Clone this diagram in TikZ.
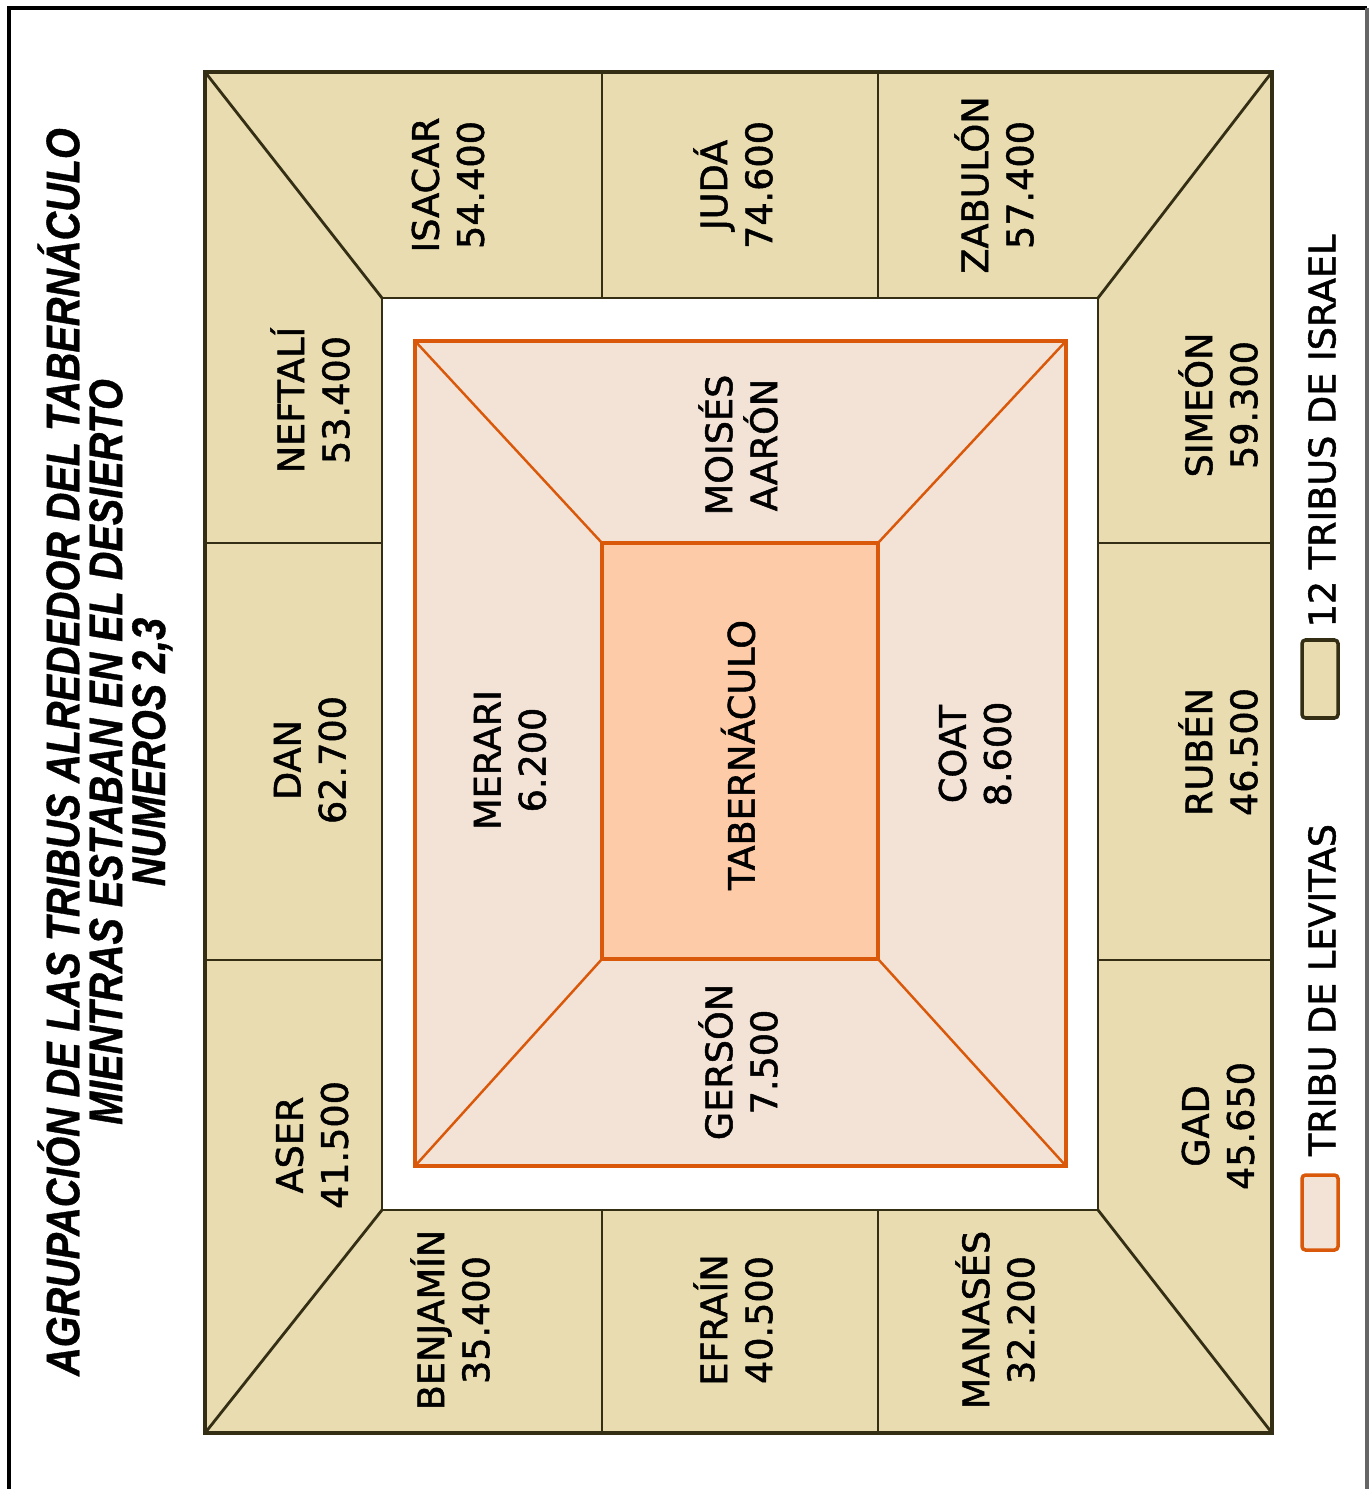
\documentclass[tikz,border=0pt]{standalone}
\usepackage{fontspec}
\setmainfont{DejaVu Sans}
\newfontfamily\lblfont[FakeBold=1.4]{DejaVu Sans}
\newfontfamily\titlefont[FakeStretch=0.84,FakeBold=0.8]{Liberation Sans}
\usetikzlibrary{positioning}
\definecolor{tribu}{HTML}{E8DCB0}
\definecolor{linea}{HTML}{332E14}
\definecolor{levita}{HTML}{F3E3D7}
\definecolor{naranja}{HTML}{D9580A}
\definecolor{tab}{HTML}{FDCBA7}

\begin{document}
\begin{tikzpicture}[x=0.01cm,y=-0.01cm,
  campo/.style={draw=linea,line width=1.1pt,fill=tribu},
  divis/.style={draw=linea,line width=0.8pt},
  levzona/.style={draw=naranja,line width=1pt,fill=levita},
  levdiag/.style={draw=naranja,line width=0.7pt},
  lbl/.style={rotate=90,align=center,inner sep=0pt,font=\lblfont\fontsize{10.4}{12.8}\selectfont},
  titulo/.style={rotate=90,align=center,inner sep=0pt,font=\titlefont\bfseries\itshape\fontsize{13.4}{12.2}\selectfont}]
\useasboundingbox (0,0) rectangle (1371,1489);
\draw[line width=0.9pt] (9,1489) -- (9,8) -- (1367,8);
\draw[line width=0.9pt,black!60] (1367,8) -- (1367,1489);
\draw[campo] (205,72) rectangle (1272,1433);
\draw[divis,fill=white] (382,298) rectangle (1098,1210);
\draw[divis] (205,72) -- (382,298);
\draw[divis] (1272,72) -- (1098,298);
\draw[divis] (205,1433) -- (382,1210);
\draw[divis] (1272,1433) -- (1098,1210);
\draw[divis] (602,72) -- (602,298);
\draw[divis] (878,72) -- (878,298);
\draw[divis] (602,1210) -- (602,1433);
\draw[divis] (878,1210) -- (878,1433);
\draw[divis] (205,543) -- (382,543);
\draw[divis] (205,960) -- (382,960);
\draw[divis] (1098,543) -- (1272,543);
\draw[divis] (1098,960) -- (1272,960);
\draw[levzona] (415,341) rectangle (1066,1166);
\draw[levdiag] (415,341) -- (602,543);
\draw[levdiag] (1066,341) -- (878,543);
\draw[levdiag] (415,1166) -- (602,959);
\draw[levdiag] (1066,1166) -- (878,959);
\draw[levzona,fill=tab] (602,543) rectangle (878,959);
\node[titulo] (titulo) at (105,752) {AGRUPACIÓN DE LAS TRIBUS ALREDEDOR DEL TABERNÁCULO\\MIENTRAS ESTABAN EN EL DESIERTO\\NUMEROS 2,3};
\node[lbl] (isacar) at (448,185) {ISACAR\\54.400};
\node[lbl] (juda) at (733,185) {JUDÁ\\74.600};
\node[lbl] (zabulon) at (994,185) {ZABULÓN\\57.400};
\node[lbl] (neftali) at (310,400) {NEFTALÍ\\53.400};
\node[lbl] (dan) at (310,760) {DAN\\62.700};
\node[lbl] (aser) at (312,1145) {ASER\\41.500};
\node[lbl] (benjamin) at (450,1320) {BENJAMÍN\\35.400};
\node[lbl] (efrain) at (733,1320) {EFRAÍN\\40.500};
\node[lbl] (manases) at (995,1320) {MANASÉS\\32.200};
\node[lbl] (simeon) at (1218,405) {SIMEÓN\\59.300};
\node[lbl] (ruben) at (1218,752) {RUBÉN\\46.500};
\node[lbl] (gad) at (1218,1126) {GAD\\45.650};
\node[lbl] (moises) at (738,445) {MOISÉS\\AARÓN};
\node[lbl] (merari) at (510,760) {MERARI\\6.200};
\node[lbl] (tabernaculo) at (738,755) {TABERNÁCULO};
\node[lbl] (coat) at (975,754) {COAT\\8.600};
\node[lbl] (gerson) at (738,1062) {GERSÓN\\7.500};
\draw[campo,line width=1pt,rounded corners=1pt] (1302,640) rectangle (1338,718);
\node[lbl] (ley12) at (1322,431) {12 TRIBUS DE ISRAEL};
\draw[levzona,rounded corners=1pt] (1302,1175) rectangle (1338,1250);
\node[lbl] (leylev) at (1322,990) {TRIBU DE LEVITAS};
\end{tikzpicture}
\end{document}
